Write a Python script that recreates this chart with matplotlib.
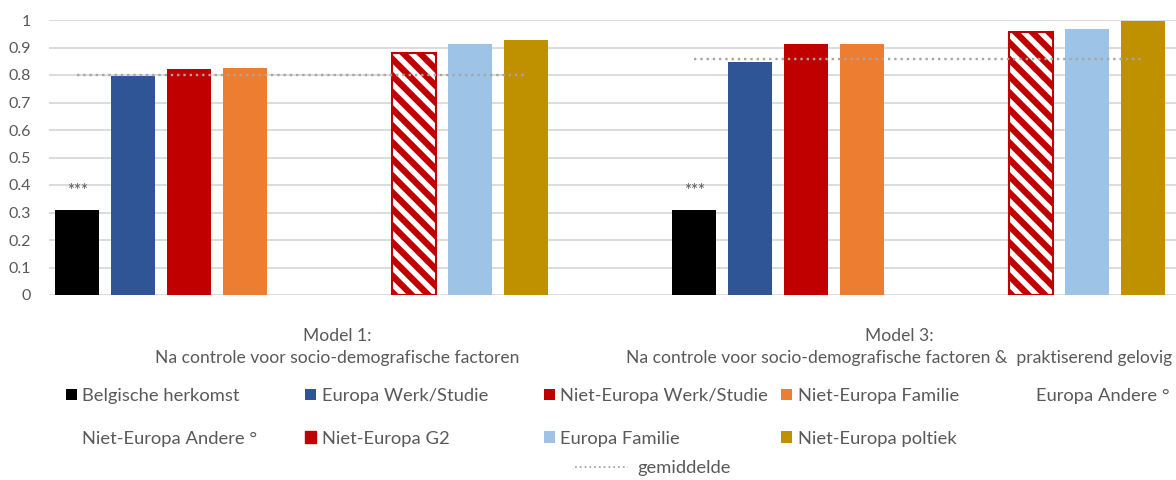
import numpy as np
import matplotlib.pyplot as plt
from matplotlib.patches import Patch
from matplotlib.lines import Line2D

plt.rcParams['font.family'] = ['Lato', 'DejaVu Sans']
plt.rcParams['hatch.linewidth'] = 4.6

# categories (two models)
models = ["Model 1:\nNa controle voor socio-demografische factoren",
          "Model 3:\nNa controle voor socio-demografische factoren &  praktiserend gelovig"]

# series values per model
belgische = [0.309, 0.309]
europa_werk = [0.796, 0.849]
niet_europa_werk = [0.823, 0.911]
niet_europa_familie = [0.826, 0.911]
europa_andere = [np.nan, np.nan]
niet_europa_andere = [np.nan, np.nan]
niet_europa_g2 = [0.881, 0.955]
europa_familie = [0.914, 0.966]
niet_europa_politiek = [0.928, 0.995]
gemiddelde = [0.80, 0.86]

series = [
    ("Belgische herkomst", belgische, "#000000"),
    ("Europa Werk/Studie", europa_werk, "#2F5597"),
    ("Niet-Europa Werk/Studie", niet_europa_werk, "#C00000"),
    ("Niet-Europa Familie", niet_europa_familie, "#ED7D31"),
    ("Europa Andere °", europa_andere, "#FFFFFF"),
    ("Niet-Europa Andere °", niet_europa_andere, "#FFFFFF"),
    ("Niet-Europa G2", niet_europa_g2, "hatch"),
    ("Europa Familie", europa_familie, "#9DC3E6"),
    ("Niet-Europa poltiek", niet_europa_politiek, "#BF9000"),
]

txt = "#595959"
fig = plt.figure(figsize=(11.76, 4.8), dpi=100)
ax = fig.add_axes([48.7 / 1176, 185 / 480, 1 - 48.7 / 1176, 275 / 480])

group_step = 11
width = 0.784
handles = []
for i, (name, vals, col) in enumerate(series):
    xs = [g * group_step + i for g in range(len(models))]
    if col == "hatch":
        # red bar with white diagonal stripes
        ax.bar(xs, vals, width, facecolor="white", edgecolor="#C00000",
               hatch="\\\\", linewidth=1.5, zorder=3)
        handles.append(Patch(facecolor="#C00000", edgecolor="#C00000", label=name))
    else:
        ax.bar(xs, vals, width, color=col, zorder=3)
        handles.append(Patch(facecolor=col, edgecolor="none", label=name))

# average line across each group
for g, avg in enumerate(gemiddelde):
    ax.hlines(avg, g * group_step, g * group_step + 8, colors="#A6A6A6",
              linestyles=":", linewidth=1.7, zorder=4)

# significance marks above the Belgian bars
for g, v in enumerate(belgische):
    ax.annotate("***", (g * group_step, v), xytext=(0, 14), textcoords="offset points",
                ha="center", va="center", fontsize=12, color=txt)

ax.set_ylim(0, 1)
ax.set_xlim(-0.505, 19.59)
yt = np.round(np.arange(0, 1.01, 0.1), 1)
ax.set_yticks(yt)
ax.set_yticklabels(["0", "0.1", "0.2", "0.3", "0.4", "0.5", "0.6", "0.7", "0.8", "0.9", "1"])
ax.set_xticks([4.63, 14.66])
ax.set_xticklabels(models, linespacing=1.4, ha="center", multialignment="center")
ax.tick_params(axis="y", length=0, pad=13, labelsize=11.5, labelcolor=txt)
ax.tick_params(axis="x", length=0, pad=24, labelsize=12.6, labelcolor=txt)
ax.grid(axis="y", color="#D9D9D9", linewidth=1.3, zorder=0)
ax.set_axisbelow(True)
for s in ax.spines.values():
    s.set_visible(False)

# legend laid out in five equal columns, rows filled left to right
col_x = [66, 305, 544, 781, 1020]
for c in range(5):
    hs = handles[c::5]
    fig.legend(handles=hs, loc="upper left",
               bbox_to_anchor=(col_x[c] / 1176, 1 - 388 / 480),
               frameon=False, fontsize=13.2, labelcolor=txt,
               handlelength=0.6, handleheight=0.6, handletextpad=0.3,
               labelspacing=1.45, borderpad=0, borderaxespad=0)
line_h = Line2D([], [], color="#A6A6A6", linestyle=":", linewidth=1.3, label="gemiddelde")
fig.legend(handles=[line_h], loc="upper left", bbox_to_anchor=(575 / 1176, 1 - 460 / 480),
           frameon=False, fontsize=13.2, labelcolor=txt, handlelength=2.9,
           handletextpad=0.5, borderpad=0, borderaxespad=0)

fig.savefig("out.png", dpi=100)
